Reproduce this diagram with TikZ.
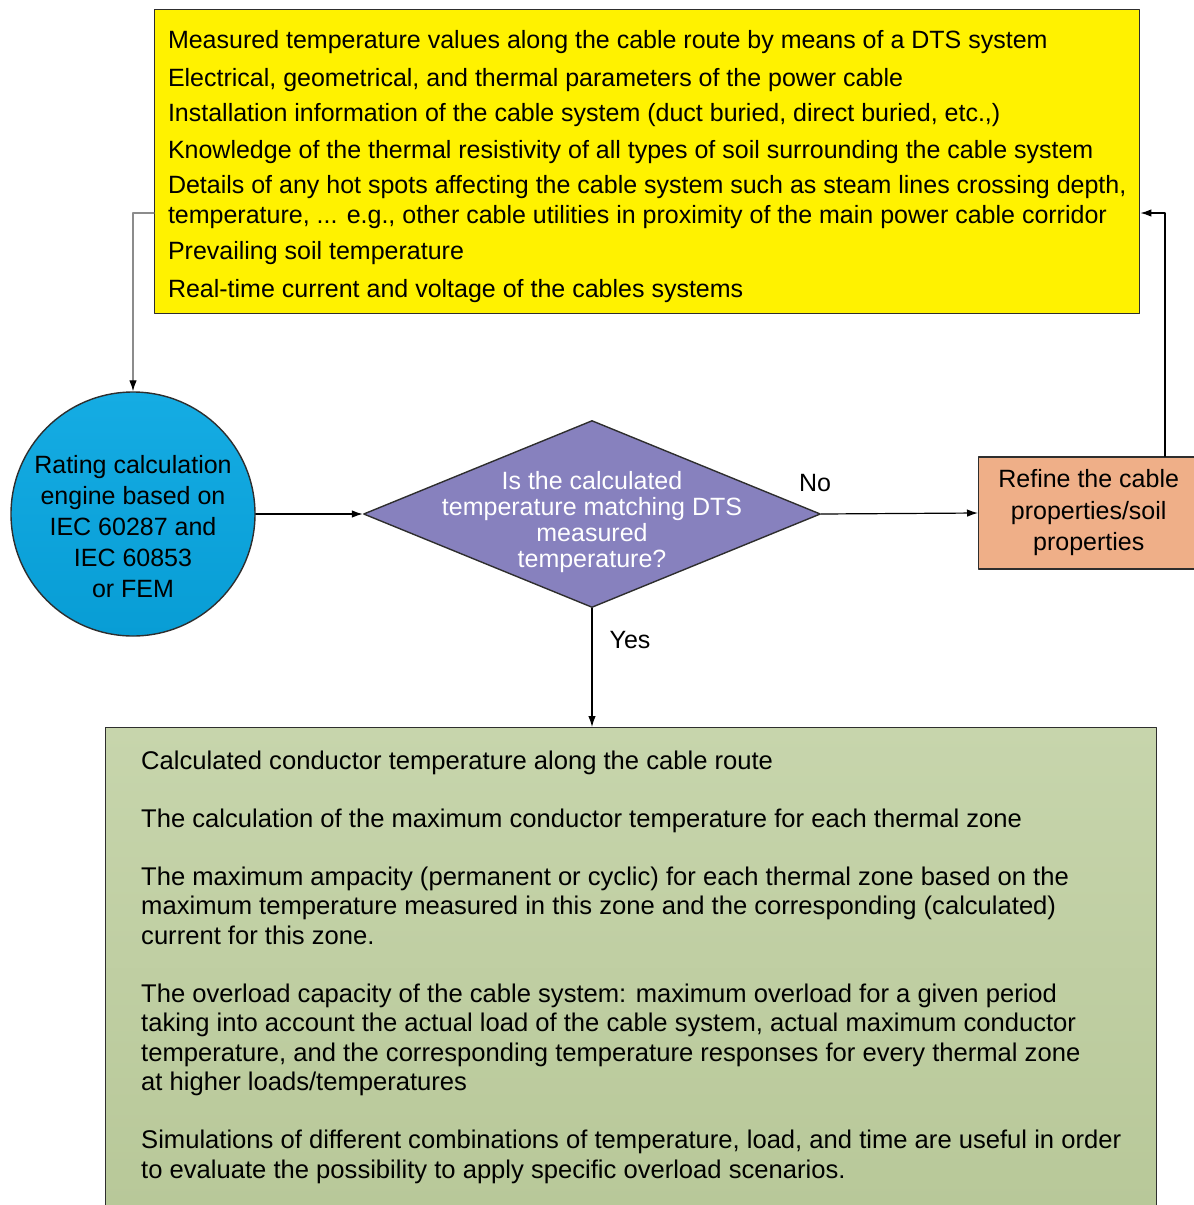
\documentclass[tikz,border=0pt]{standalone}
\usepackage{fontspec}
\setmainfont{Liberation Sans}
\usepackage{xcolor}
\usetikzlibrary{arrows.meta,shapes.geometric,positioning}
\definecolor{edge}{HTML}{2E2E2E}
\definecolor{inputs}{HTML}{FFF200}
\definecolor{engineT}{HTML}{15ACE3}
\definecolor{engineB}{HTML}{089DD5}
\definecolor{check}{HTML}{8781BE}
\definecolor{refine}{HTML}{EFAF88}
\definecolor{outT}{HTML}{C7D5AC}
\definecolor{outB}{HTML}{B8C899}
\definecolor{wire}{HTML}{8C8C8C}
\tikzset{
  Box/.style={
    draw=edge, line width=1.4pt, inner sep=0pt,
    text=black, font=\fontsize{25}{29.5}\selectfont
  },
  Flow/.style={line width=1.2pt, -{Latex[length=11pt,width=7.5pt]}},
  Lbl/.style={inner sep=0pt, font=\fontsize{25}{29.5}\selectfont}
}

\begin{document}
\begin{tikzpicture}[x=1pt, y=-1pt, line cap=round, line join=round]
  \useasboundingbox (0,0) rectangle (1194,1205);
  \clip (0,0) rectangle (1194,1205);

  % input data
  \node[Box, fill=inputs, align=left, anchor=north west,
        minimum width=985, minimum height=304] (dts) at (154,9) {%
    \rule{0pt}{28pt}Measured temperature values along the cable route by means of a DTS system\\[8pt]
    Electrical, geometrical, and thermal parameters of the power cable\\[6pt]
    Installation information of the cable system (duct buried, direct buried, etc.,)\\[7pt]
    Knowledge of the thermal resistivity of all types of soil surrounding the cable system\\[6pt]
    Details of any hot spots affecting the cable system such as steam lines crossing depth,\\
    temperature, ... e.g., other cable utilities in proximity of the main power cable corridor\\[7pt]
    Prevailing soil temperature\\[8pt]
    Real-time current and voltage of the cables systems};

  % rating engine
  \node[Box, circle, top color=engineT, bottom color=engineB,
        minimum size=244] (calc) at (133,514) {};
  \node[Lbl, align=center, font=\fontsize{25}{31}\selectfont] (calctxt) at (133,527)
    {Rating calculation\\engine based on\\IEC 60287 and\\IEC 60853\\or FEM};

  % decision
  \node[Box, diamond, fill=check, minimum width=457, minimum height=187] (dec) at (592,514) {};
  \node[Lbl, align=center, text=white, font=\fontsize{25}{26}\selectfont] (dectxt) at (592,522)
    {Is the calculated\\temperature matching DTS\\measured\\temperature?};

  \node[Box, fill=refine, align=center, anchor=west, font=\fontsize{25}{31.5}\selectfont,
        minimum width=220, minimum height=112] (ref) at (978,513)
    {Refine the cable\\properties/soil\\properties};

  % results
  \node[Box, top color=outT, bottom color=outB, align=left, anchor=north west,
        font=\fontsize{25.6}{29.5}\selectfont,
        minimum width=1051, minimum height=479] (out) at (105,727) {%
    Calculated conductor temperature along the cable route\\[28.5pt]
    The calculation of the maximum conductor temperature for each thermal zone\\[28.5pt]
    The maximum ampacity (permanent or cyclic) for each thermal zone based on the\\
    maximum temperature measured in this zone and the corresponding (calculated)\\
    current for this zone.\\[28.5pt]
    The overload capacity of the cable system: maximum overload for a given period\\
    taking into account the actual load of the cable system, actual maximum conductor\\
    temperature, and the corresponding temperature responses for every thermal zone\\
    at higher loads/temperatures\\[28.5pt]
    Simulations of different combinations of temperature, load, and time are useful in order\\
    to evaluate the possibility to apply specific overload scenarios.};

  \coordinate (fa) at (133,213);
  \coordinate (fb) at (1165,213);

  \draw[Flow, draw=wire, -{Latex[length=11pt,width=7.5pt,color=black]}] (dts.west |- fa) -- (fa) -- (calc.north);
  \draw[Flow] (calc.east) -- (dec.west);
  \draw[Flow] (dec.east) -- (ref.west);
  \draw[Flow] (dec.south) -- (dec.south |- out.north);
  \draw[Flow] (ref.north -| fb) -- (fb) -- (dts.east |- fb);

  \node[Lbl] (nolbl) at (815,483) {No};
  \node[Lbl] (yeslbl) at (630,640) {Yes};
\end{tikzpicture}
\end{document}
